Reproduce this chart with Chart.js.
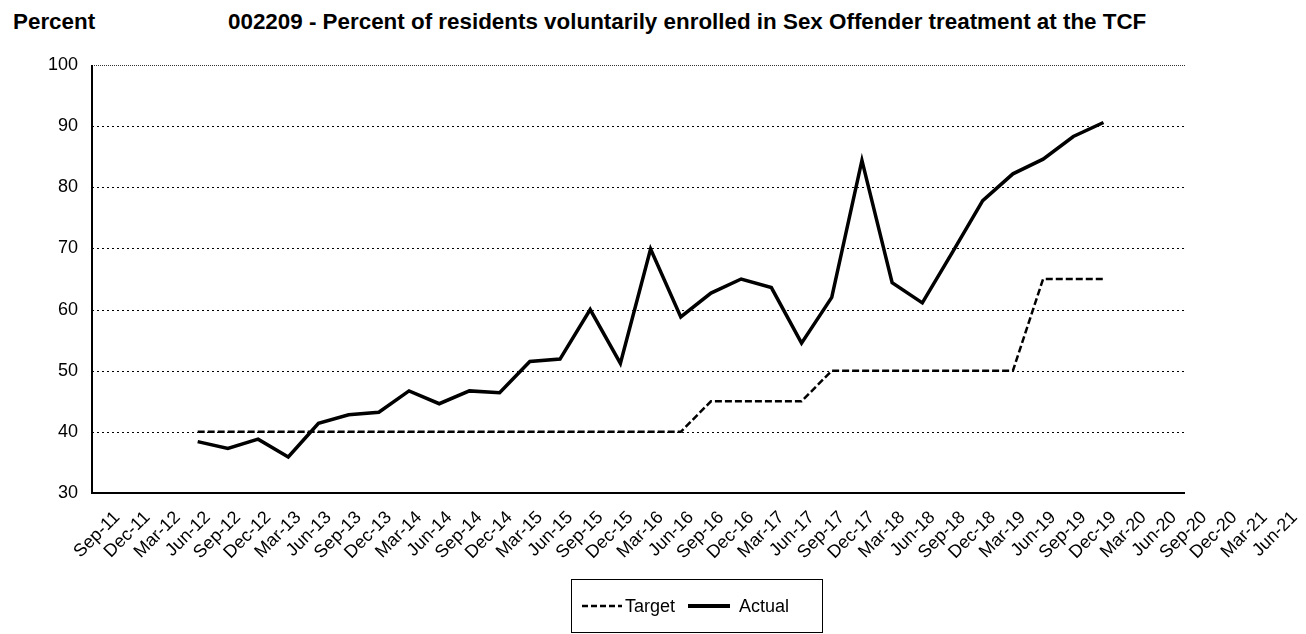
<!DOCTYPE html>
<html><head><meta charset="utf-8">
<script src="https://cdn.jsdelivr.net/npm/chart.js@4"></script>
<style>
html,body{margin:0;padding:0;background:#fff;}
#wrap{position:relative;width:1306px;height:634px;font-family:"Liberation Sans",Arial,sans-serif;color:#000;overflow:hidden;}
canvas{position:absolute;left:0;top:0;}
.t{position:absolute;font-weight:bold;font-size:22.4px;white-space:nowrap;line-height:1;}
#legend{position:absolute;left:571px;top:579px;width:252px;height:54px;border:1px solid #000;box-sizing:border-box;font-size:18px;}
#legend .item{position:absolute;top:0;height:52px;display:flex;align-items:center;white-space:nowrap;}
#legend svg{display:block;margin-right:3px;}
</style></head>
<body><div id="wrap">
<div class="t" style="left:13px;top:11px">Percent</div>
<div class="t" style="left:228px;top:11px">002209 - Percent of residents voluntarily enrolled in Sex Offender treatment at the TCF</div>
<canvas id="c" width="1306" height="634"></canvas>
<div id="legend">
  <div class="item" style="left:10px"><svg width="40" height="6"><line x1="0" y1="3" x2="40" y2="3" stroke="#000" stroke-width="2.5" stroke-dasharray="6,3"/></svg>Target</div>
  <div class="item" style="left:116px"><svg width="42" height="6"><line x1="0" y1="3" x2="42" y2="3" stroke="#000" stroke-width="4"/></svg><span style="margin-left:6px">Actual</span></div>
</div>
</div>
<script>
const categories = ["Sep-11","Dec-11","Mar-12","Jun-12","Sep-12","Dec-12","Mar-13","Jun-13","Sep-13","Dec-13",
  "Mar-14","Jun-14","Sep-14","Dec-14","Mar-15","Jun-15","Sep-15","Dec-15","Mar-16","Jun-16",
  "Sep-16","Dec-16","Mar-17","Jun-17","Sep-17","Dec-17","Mar-18","Jun-18","Sep-18","Dec-18",
  "Mar-19","Jun-19","Sep-19","Dec-19","Mar-20","Jun-20","Sep-20","Dec-20","Mar-21","Jun-21"];
const targetValues = [null,null,null,40,40,40,40,40,40,40,
  40,40,40,40,40,40,40,40,40,40,
  45,45,45,45,50,50,50,50,50,50,
  50,65,65,65,null,null,null,null,null,null];
const actualValues = [null,null,null,38.4,37.3,38.8,35.9,41.4,42.8,43.2,
  46.7,44.6,46.7,46.4,51.5,51.9,60.0,51.2,69.9,58.8,
  62.7,65.0,63.6,54.5,62.0,84.4,64.4,61.1,69.4,77.8,
  82.2,84.6,88.3,90.6,null,null,null,null,null,null];
const yMin = 30, yMax = 100, yStep = 10;
const PLOT_END_INDEX = 35.7;

const framePlugin = {
  id: 'frame',
  beforeDatasetsDraw(chart) {
    const {ctx, chartArea: a, scales: {x, y}} = chart;
    const xEnd = x.getPixelForValue(PLOT_END_INDEX);
    ctx.save();
    ctx.lineWidth = 1;
    y.ticks.forEach(t => {
      if (t.value === y.min) return;
      ctx.setLineDash(t.value === y.max ? [1, 1] : [2, 3]);
      ctx.strokeStyle = t.value === y.max ? '#333' : '#000';
      const py = Math.round(y.getPixelForValue(t.value)) + 0.5;
      ctx.beginPath(); ctx.moveTo(a.left, py); ctx.lineTo(xEnd, py); ctx.stroke();
    });
    ctx.setLineDash([]);
    ctx.strokeStyle = '#000';
    ctx.lineWidth = 2;
    ctx.beginPath();
    ctx.moveTo(a.left, a.top);
    ctx.lineTo(a.left, a.bottom);
    ctx.lineTo(xEnd, a.bottom);
    ctx.stroke();
    ctx.restore();
  }
};

new Chart(document.getElementById('c'), {
  type: 'line',
  data: {
    labels: categories,
    datasets: [
      {label: 'Target', data: targetValues, borderColor: '#000', borderWidth: 2.5, borderDash: [7, 3],
       pointRadius: 0, tension: 0, order: 1, fill: false},
      {label: 'Actual', data: actualValues, borderColor: '#000', borderWidth: 3.5,
       pointRadius: 0, tension: 0, order: 0, fill: false, borderJoinStyle: 'miter'}
    ]
  },
  options: {
    responsive: false,
    animation: false,
    devicePixelRatio: 1,
    layout: {padding: {left: 0, right: 6, top: 65, bottom: 0}},
    plugins: {legend: {display: false}, tooltip: {enabled: false}},
    scales: {
      x: {
        type: 'category', offset: true,
        grid: {display: false}, border: {display: false},
        ticks: {autoSkip: false, maxRotation: 45, minRotation: 45, color: '#000', padding: 6, labelOffset: 10,
                font: {family: '"Liberation Sans", Arial, sans-serif', size: 18}},
        afterFit(s) { s.height = 141; }
      },
      y: {
        min: yMin, max: yMax,
        grid: {display: false}, border: {display: false},
        ticks: {stepSize: yStep, color: '#000', padding: 6,
                font: {family: '"Liberation Sans", Arial, sans-serif', size: 18}},
        afterFit(s) { s.width = 92; }
      }
    }
  },
  plugins: [framePlugin]
});
</script>
</body></html>
